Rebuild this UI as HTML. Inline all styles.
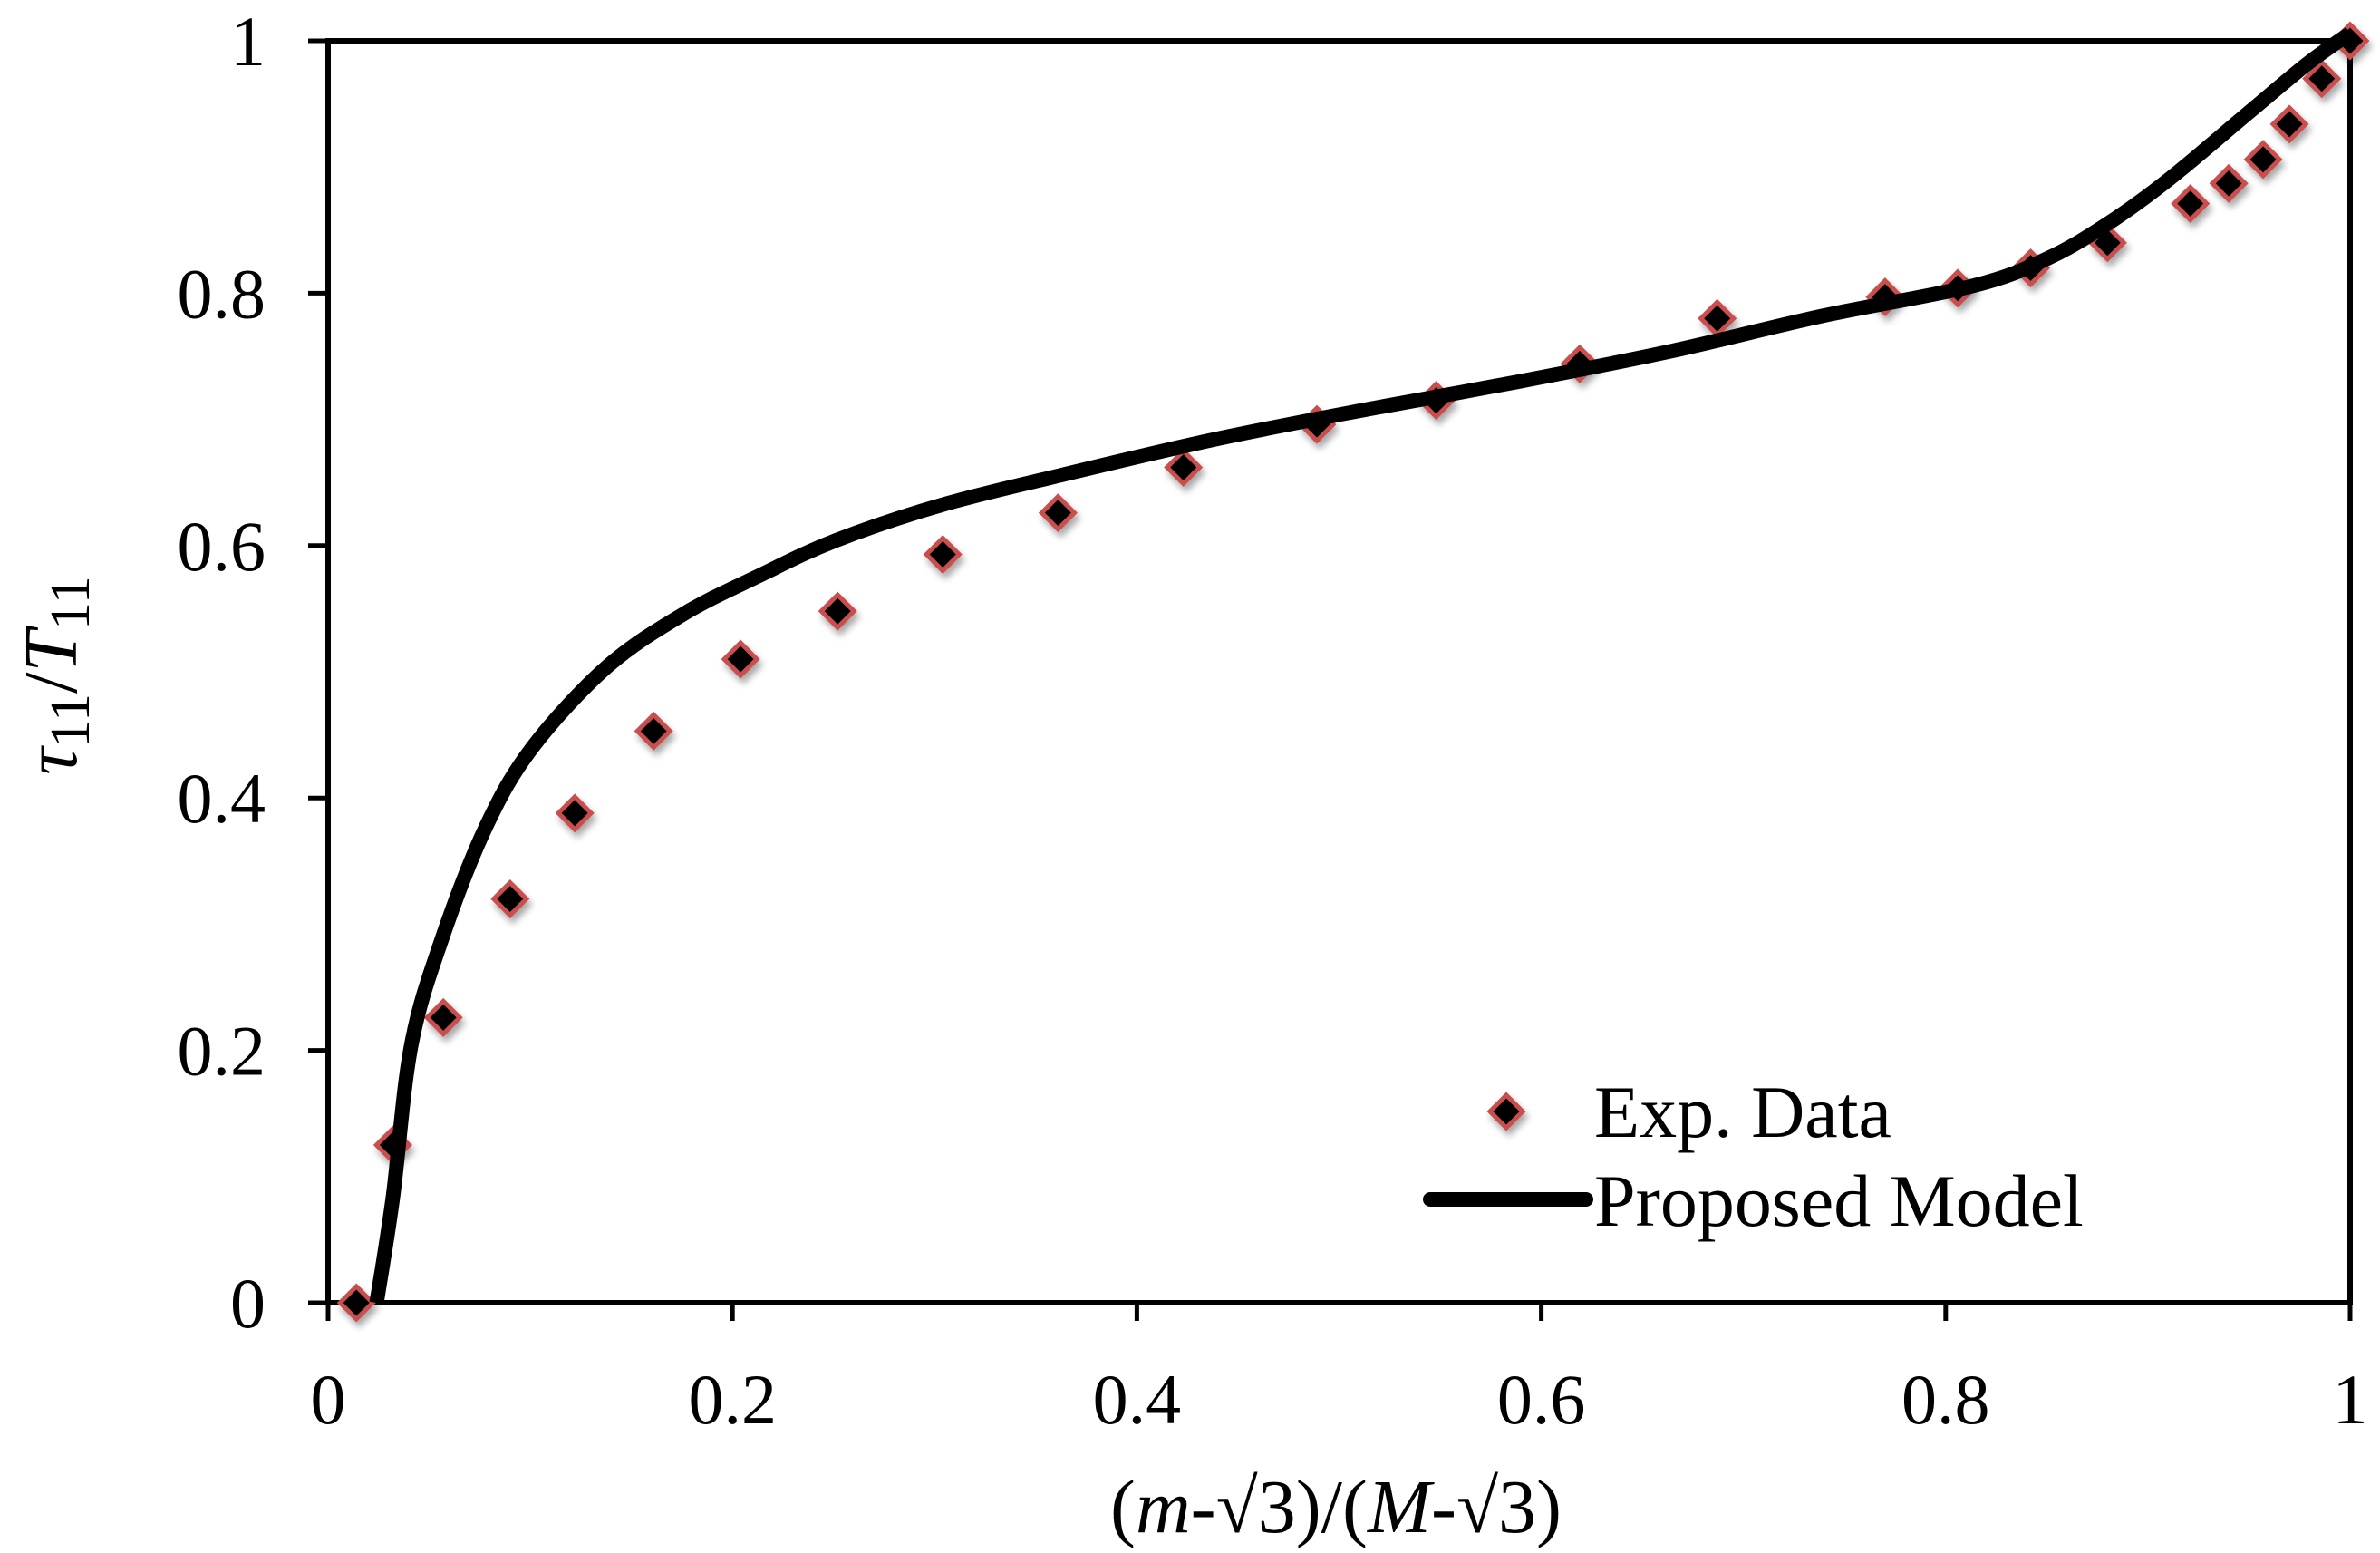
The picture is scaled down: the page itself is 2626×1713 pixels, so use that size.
<!DOCTYPE html>
<html><head><meta charset="utf-8"><style>
html,body{margin:0;padding:0;background:#fff}
svg{display:block}
text{font-family:"Liberation Serif",serif;fill:#000}
</style></head><body>
<svg id="chart" width="2626" height="1713" viewBox="0 0 2626 1713">
<defs>
<filter id="sh" x="-50%" y="-50%" width="200%" height="200%"><feGaussianBlur in="SourceAlpha" stdDeviation="4"/><feOffset dx="3" dy="6"/><feComponentTransfer><feFuncA type="linear" slope="0.35"/></feComponentTransfer><feMerge><feMergeNode/><feMergeNode in="SourceGraphic"/></feMerge></filter>
</defs>
<g id="axes"></g>
<g id="marks"></g>
<text x="84" y="745" font-size="84" font-style="italic" text-anchor="middle" transform="rotate(-90 84 745)">τ<tspan font-style="normal" font-size="62" dy="14">11</tspan><tspan font-style="normal" dy="-14">/</tspan>T<tspan font-style="normal" font-size="62" dy="14">11</tspan></text>
<text x="1474" y="1690" font-size="84" text-anchor="middle">(<tspan font-style="italic">m</tspan>-√3)/(<tspan font-style="italic">M</tspan>-√3)</text>
<g>
<path d="M1662 1208 L1680 1226 L1662 1244 L1644 1226 Z" fill="#000" stroke="#c8504e" stroke-width="5" filter="url(#sh)"/>
<text x="1759" y="1254" font-size="82">Exp. Data</text>
<line x1="1578" y1="1323" x2="1750" y2="1323" stroke="#000" stroke-width="16" stroke-linecap="round"/>
<text x="1759" y="1352" font-size="82">Proposed Model</text>
</g>
</svg>
<script>
const xTicks=[0,0.2,0.4,0.6,0.8,1];
const xTickLabels=["0","0.2","0.4","0.6","0.8","1"];
const yTicks=[0,0.2,0.4,0.6,0.8,1];
const yTickLabels=["0","0.2","0.4","0.6","0.8","1"];
const expX=[0.014,0.032,0.057,0.090,0.122,0.161,0.204,0.252,0.304,0.361,0.423,0.489,0.548,0.619,0.687,0.770,0.806,0.842,0.880,0.921,0.940,0.957,0.970,0.986,1.0];
const expY=[0,0.125,0.226,0.320,0.388,0.453,0.510,0.548,0.593,0.626,0.662,0.696,0.715,0.744,0.780,0.797,0.804,0.820,0.840,0.871,0.887,0.906,0.934,0.970,1.0];
const modelX=[0.024,0.032,0.041,0.056,0.078,0.101,0.138,0.176,0.213,0.251,0.303,0.363,0.438,0.514,0.589,0.664,0.739,0.814,0.851,0.881,0.911,0.949,0.979,1.0];
const modelY=[0,0.083,0.203,0.287,0.377,0.44,0.504,0.546,0.576,0.604,0.632,0.656,0.684,0.708,0.730,0.754,0.782,0.806,0.828,0.856,0.891,0.942,0.982,1.006];
const X0=362,X1=2593,Y0=1437,Y1=45;
const sx=v=>X0+(X1-X0)*v;
const sy=v=>Y0-(Y0-Y1)*v;
const NS="http://www.w3.org/2000/svg";
const axes=document.getElementById('axes'),marks=document.getElementById('marks');
function mk(tag,parent,attrs){const e=document.createElementNS(NS,tag);for(const k in attrs)e.setAttribute(k,attrs[k]);parent.appendChild(e);return e;}
const frame=mk('rect',axes,{x:X0,y:Y1,width:X1-X0,height:Y0-Y1,fill:'none',stroke:'#000','stroke-width':6});


xTicks.forEach((t,i)=>{
 const l=mk('line',axes,{x1:sx(t),x2:sx(t),y1:Y0,y2:Y0+20,stroke:'#000','stroke-width':5});
 
 
 const tx=mk('text',axes,{x:sx(t),y:1570,'font-size':78,'text-anchor':'middle'});
 tx.textContent=xTickLabels[i];
 
 
});
yTicks.forEach((t,i)=>{
 const l=mk('line',axes,{x1:X0-22,x2:X0,y1:sy(t),y2:sy(t),stroke:'#000','stroke-width':5});
 
 
 const tx=mk('text',axes,{x:293,y:sy(t)+27,'font-size':78,'text-anchor':'end'});
 tx.textContent=yTickLabels[i];
 
 
});
expX.forEach((v,i)=>{
 const cx=sx(v),cy=sy(expY[i]),r=18;
 const p=mk('path',marks,{d:`M${cx} ${cy-r} L${cx+r} ${cy} L${cx} ${cy+r} L${cx-r} ${cy} Z`,fill:'#000',stroke:'#c8504e','stroke-width':5,filter:'url(#sh)'});
 
 
});
let d='';
for(let i=0;i<modelX.length;i++){
 const x=sx(modelX[i]),y=sy(modelY[i]);
 if(i===0){d+=`M${x} ${y}`;continue;}
 const x0=sx(modelX[i-1]),y0=sy(modelY[i-1]);
 const xp=sx(modelX[Math.max(i-2,0)]),yp=sy(modelY[Math.max(i-2,0)]);
 const xn=sx(modelX[Math.min(i+1,modelX.length-1)]),yn=sy(modelY[Math.min(i+1,modelX.length-1)]);
 d+=` C${x0+(x-xp)/6} ${y0+(y-yp)/6} ${x-(xn-x0)/6} ${y-(yn-y0)/6} ${x} ${y}`;
}
const line=mk('path',marks,{d:d,fill:'none',stroke:'#000','stroke-width':16,'stroke-linejoin':'round'});


</script>
</body></html>
